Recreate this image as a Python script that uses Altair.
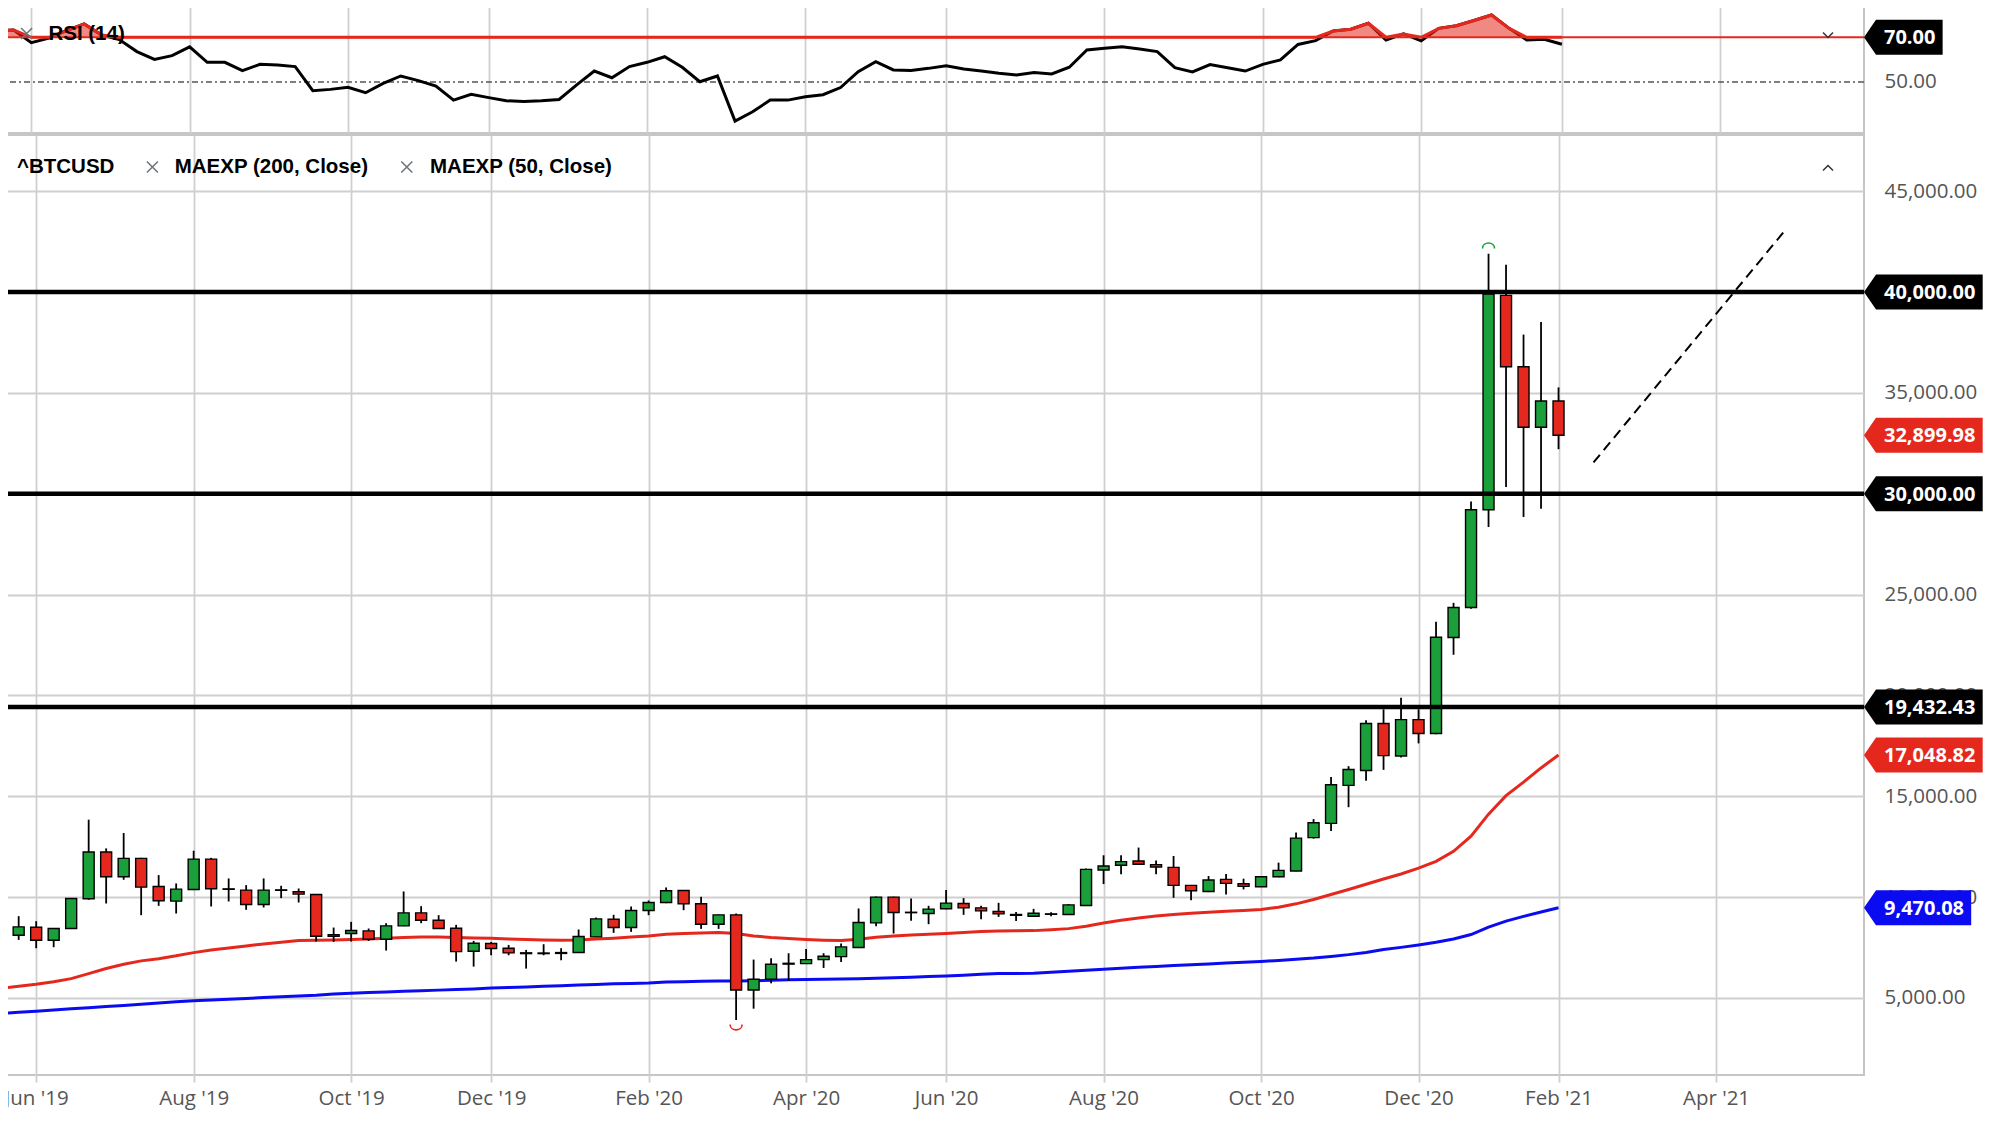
import altair as alt
import pandas as pd

# ---------------- data ----------------
dates = pd.date_range("2019-05-20", periods=90, freq="7D").strftime("%Y-%m-%d").tolist()

open_ = [7120, 8113, 8510, 7864, 8444, 9917, 12235, 11010, 11921, 10530,
         9801, 10381, 11887, 10390, 10348, 9636, 10340, 10265, 10132, 8063,
         8195, 8328, 7914, 8576, 9222, 8858, 8460, 7318, 7699, 7467,
         7240, 7200, 7210, 7252, 8030, 8907, 8493, 9338, 9735, 10331,
         9669, 8659, 9123, 5397, 5927, 6680, 6705, 6904, 7053, 7500,
         8725, 10000, 9250, 9189, 9421, 9685, 9470, 9286, 9140, 9053,
         9150, 9136, 9585, 11346, 11578, 11794, 11611, 11478, 10581, 10282,
         10880, 10664, 10515, 11013, 11296, 12950, 13656, 15541, 16279, 18607,
         17000, 18803, 18115, 22869, 24361, 29209, 39835, 36293, 33295, 34596]
high = [8200, 9056, 8808, 8460, 9960, 13841, 12417, 13179, 11950, 11093,
        10679, 12301, 11950, 10927, 10596, 10927, 10563, 10430, 10150, 8493,
        8775, 8444, 8709, 10281, 9553, 9106, 8626, 7831, 7781, 7632,
        7384, 7666, 7467, 8394, 8990, 9123, 9536, 9834, 10480, 10350,
        10017, 9140, 9189, 6904, 6970, 7219, 7434, 7219, 7699, 9437,
        10030, 10020, 9934, 9570, 10348, 9950, 9570, 9718, 9269, 9419,
        9250, 9660, 11420, 12076, 12076, 12458, 11820, 12043, 10600, 11047,
        11146, 10914, 11050, 11711, 13206, 13869, 15951, 16492, 18770, 19311,
        19885, 19311, 23656, 24590, 29621, 41895, 41351, 37891, 38517, 35272]
low = [6950, 7881, 7467, 7517, 8420, 9868, 9685, 10861, 9106, 9570,
       9189, 10350, 9536, 9785, 9371, 9487, 9950, 9735, 7798, 7781,
       7798, 7830, 7351, 8560, 8709, 8430, 6805, 6556, 7119, 7119,
       6457, 7119, 6871, 7240, 8020, 8228, 8278, 9106, 9700, 9354,
       8427, 8427, 3907, 4470, 5728, 5861, 6690, 6490, 6788, 7480,
       8560, 8195, 8825, 8659, 9400, 9123, 8907, 9020, 8821, 9040,
       9050, 9120, 9570, 10648, 11130, 11600, 11130, 9967, 9850, 10250,
       10133, 10382, 10500, 10990, 11280, 12900, 13279, 14459, 15770, 16311,
       16918, 17623, 18080, 22016, 24300, 28353, 30330, 28847, 29259, 32208]
close = [8113, 8526, 7864, 8444, 9934, 12235, 11010, 11921, 10497, 9818,
         10397, 11887, 10414, 10410, 9636, 10348, 10360, 10149, 8063, 8140,
         8344, 7914, 8576, 9222, 8858, 8444, 7301, 7715, 7450, 7235,
         7200, 7230, 7252, 8046, 8924, 8493, 9338, 9735, 10315, 9669,
         8659, 9123, 5397, 5927, 6672, 6720, 6904, 7070, 7533, 8742,
         10000, 9238, 9230, 9404, 9702, 9470, 9321, 9169, 9100, 9203,
         9170, 9618, 11379, 11545, 11761, 11628, 11495, 10581, 10316, 10847,
         10681, 10532, 11013, 11329, 12924, 13689, 15574, 16328, 18607, 17016,
         18803, 18115, 22885, 24361, 29209, 39900, 36293, 33295, 34596, 32899.98]

ema50 = [5480, 5580, 5680, 5810, 5960, 6210, 6460, 6670, 6840, 6950,
         7090, 7250, 7380, 7480, 7580, 7680, 7760, 7850, 7860, 7880,
         7900, 7920, 7960, 8000, 8030, 8020, 8000, 7980, 7960, 7930,
         7900, 7880, 7864, 7870, 7920, 7964, 8020, 8079, 8160, 8200,
         8220, 8245, 8195, 8079, 8000, 7947, 7897, 7864, 7848, 7914,
         8013, 8079, 8120, 8162, 8200, 8245, 8300, 8320, 8330, 8340,
         8380, 8439, 8555, 8721, 8850, 8970, 9060, 9136, 9200, 9252,
         9300, 9340, 9385, 9502, 9668, 9880, 10133, 10380, 10640, 10900,
         11150, 11438, 11773, 12274, 13027, 14114, 15033, 15702, 16405, 17048.82]
ema200 = [4240, 4290, 4340, 4400, 4470, 4520, 4580, 4630, 4690, 4750,
          4810, 4866, 4900, 4940, 4980, 5020, 5060, 5100, 5140, 5200,
          5240, 5270, 5300, 5330, 5360, 5390, 5420, 5450, 5490, 5520,
          5550, 5580, 5610, 5640, 5670, 5700, 5720, 5740, 5790, 5810,
          5830, 5840, 5844, 5860, 5880, 5900, 5911, 5925, 5940, 5958,
          5977, 6000, 6030, 6060, 6093, 6130, 6180, 6209, 6220, 6229,
          6280, 6330, 6380, 6429, 6475, 6520, 6565, 6611, 6650, 6690,
          6730, 6770, 6811, 6860, 6920, 6977, 7060, 7150, 7260, 7400,
          7510, 7625, 7759, 7926, 8144, 8512, 8813, 9047, 9264, 9470.08]
rsi = [72.8, 73.3, 67.6, 69.6, 73.0, 76.0, 71.0, 69.0, 63.6, 60.1,
       61.8, 65.7, 58.8, 58.8, 55.1, 57.9, 57.6, 56.9, 46.1, 46.7,
       47.6, 45.2, 49.4, 52.7, 50.6, 48.2, 41.9, 44.5, 43.0, 41.6,
       41.3, 41.6, 42.2, 48.7, 54.9, 51.9, 56.9, 58.8, 61.3, 56.6,
       50.1, 52.7, 32.5, 36.7, 41.9, 41.9, 43.4, 44.3, 47.5, 54.6,
       59.1, 55.4, 55.1, 56.1, 57.3, 55.8, 54.9, 53.9, 53.1, 54.2,
       53.6, 56.6, 64.3, 65.1, 65.8, 64.8, 63.6, 56.4, 54.5, 57.8,
       56.4, 54.9, 57.9, 59.9, 66.8, 68.5, 72.8, 73.6, 76.3, 68.8,
       71.5, 68.4, 74.0, 75.2, 77.5, 80.0, 74.0, 68.8, 69.1, 66.9]

levels = [40000, 30000, 19432.43]
price_ticks = [5000, 10000, 15000, 20000, 25000, 30000, 35000, 40000, 45000]
month_ticks = ["2019-06-03", "2019-08-05", "2019-10-07", "2019-12-02", "2020-02-03",
               "2020-04-06", "2020-06-01", "2020-08-03", "2020-10-05", "2020-12-07",
               "2021-02-01", "2021-04-05"]
trend_dates = ["2021-02-15", "2021-05-02"]
trend_vals = [31550, 42965]

# ---------------- styling / layout ----------------
GREEN = "#1b9f3b"
RED = "#e5281d"
BLUE = "#0b0bf2"
GRAY_TXT = "#555555"
PW = 1859          # plot width
RH = 128           # RSI panel height
PH = 940           # price panel height


def ms(d, days=0.0):
    return int((pd.Timestamp(d, tz="UTC") + pd.Timedelta(days=days)).value // 10**6)


xscale = alt.Scale(type="utc", domain=[ms("2019-05-20", 3.53), ms("2019-05-20", 743.2)], nice=False)
tick_ms = [ms(d) for d in month_ticks]

x_price = alt.X("date:T", scale=xscale, title=None,
                axis=alt.Axis(values=tick_ms, labelExpr="utcFormat(datum.value, \"%b '%y\")",
                              grid=True, ticks=True, tickSize=7, labelPadding=6,
                              labelOverlap=False, domain=False, title=None))
x_rsi = alt.X("date:T", scale=xscale, title=None,
              axis=alt.Axis(values=tick_ms, grid=True, labels=False, ticks=False,
                            domain=False, title=None))

yscale = alt.Scale(domain=[1182, 47786], nice=False, zero=False)
yaxis = alt.Axis(orient="right", values=price_ticks, format=",.2f", grid=True, ticks=False,
                 labelPadding=20, domain=False, title=None)
rscale = alt.Scale(domain=[27.18, 84.45], nice=False, zero=False)
raxis = alt.Axis(orient="right", values=[50], format=".2f", grid=False, ticks=False,
                 labelPadding=20, domain=False, title=None)


def PY(f):
    return alt.Y(f, scale=yscale, axis=yaxis, title=None)


def RY(f):
    return alt.Y(f, scale=rscale, axis=raxis, title=None)


def badge_path(label):
    digits = sum(c.isdigit() for c in label)
    punct = sum(c in ",." for c in label)
    w = (27 + 11.44 * digits + 5.8 * punct) / 100.0
    h = 17.5 / 100.0
    a = 12 / 100.0
    return f"M0,0L{a:.3f},{-h:.3f}L{w:.3f},{-h:.3f}L{w:.3f},{h:.3f}L{a:.3f},{h:.3f}Z"


df = pd.DataFrame({"date": dates, "open": open_, "high": high, "low": low, "close": close,
                   "ema50": ema50, "ema200": ema200, "rsi": rsi})
one = pd.DataFrame({"a": [0]})


def label_text(txt, x, y, size=20.5, color="black", font="Liberation Sans", weight="bold"):
    return alt.Chart(one).mark_text(text=txt, align="left", baseline="middle", font=font,
                                    fontSize=size, fontWeight=weight, color=color).encode(
        x=alt.value(x), y=alt.value(y))


def glyph(path, x, y, size, color, width=1.6):
    return alt.Chart(one).mark_point(shape=path, size=size, filled=False, color=color,
                                     strokeWidth=width, opacity=1).encode(
        x=alt.value(x), y=alt.value(y))


# ---------------- RSI panel ----------------
base = alt.Chart(df)
rule70 = alt.Chart(pd.DataFrame({"v": [70]})).mark_rule(color=RED, strokeWidth=2).encode(y=RY("v:Q"))
rule50 = alt.Chart(pd.DataFrame({"v": [50]})).mark_rule(
    color="#555555", strokeWidth=1.6, strokeDash=[6, 3, 2, 3]).encode(y=RY("v:Q"))
rsi_line = base.mark_line(color="black", strokeWidth=3, clip=True).encode(x=x_rsi, y=RY("rsi:Q"))
rsi_area = base.transform_calculate(rmax="max(datum.rsi, 70)", r70="70").mark_area(
    color=RED, opacity=0.55, clip=True).encode(x=x_rsi, y=RY("rmax:Q"), y2="r70:Q")
rsi_red = base.transform_calculate(rmax="max(datum.rsi, 70)").mark_line(
    color=RED, strokeWidth=3, clip=True).encode(x=x_rsi, y=RY("rmax:Q"))

rsi_badge_df = pd.DataFrame({"value": [70], "label": ["70.00"], "bg": ["black"]})
rsi_badge_df["path"] = rsi_badge_df["label"].map(badge_path)
rsi_badge = alt.Chart(rsi_badge_df).mark_point(filled=True, opacity=1, size=40000, strokeWidth=0).encode(
    x=alt.value(PW), y=RY("value:Q"), shape=alt.Shape("path:N", scale=None),
    color=alt.Color("bg:N", scale=None))
rsi_badge_txt = alt.Chart(rsi_badge_df).mark_text(
    align="left", baseline="middle", font="Open Sans", fontSize=20, fontWeight="bold",
    color="white", dy=1).encode(x=alt.value(PW + 20), y=RY("value:Q"), text="label:N")

rsi_chart = alt.layer(
    rule50, rsi_line, rsi_area, rsi_red, rule70,
    rsi_badge, rsi_badge_txt,
    glyph("M-1,-1L1,1M-1,1L1,-1", 21.6, 28.5, 121, "#6b7780"),
    label_text("RSI (14)", 43.4, 29),
    glyph("M-1,-0.5L0,0.5L1,-0.5", 1823, 30, 100, "#333333", 1.5),
).properties(width=PW, height=RH)

# ---------------- price panel ----------------
ema200_line = base.mark_line(color=BLUE, strokeWidth=3, clip=True).encode(x=x_price, y=PY("ema200:Q"))
ema50_line = base.mark_line(color=RED, strokeWidth=3, clip=True).encode(x=x_price, y=PY("ema50:Q"))
wicks = base.mark_rule(color="black", strokeWidth=1.8, clip=True).encode(
    x=x_price, y=PY("low:Q"), y2="high:Q")
bodies = base.mark_bar(size=11, stroke="black", strokeWidth=1.4, clip=True).encode(
    x=x_price, y=PY("open:Q"), y2="close:Q",
    color=alt.condition("datum.close >= datum.open", alt.value(GREEN), alt.value(RED)))
level_lines = alt.Chart(pd.DataFrame({"level": levels})).mark_rule(
    color="black", strokeWidth=4.5).encode(y=PY("level:Q"))
trend = alt.Chart(pd.DataFrame({"date": trend_dates, "v": trend_vals})).mark_line(
    color="black", strokeWidth=2, strokeDash=[10, 6]).encode(x=x_price, y=PY("v:Q"))

hi_i = max(range(len(high)), key=lambda i: high[i])
lo_i = min(range(len(low)), key=lambda i: low[i])
hi_mark = alt.Chart(pd.DataFrame({"date": [dates[hi_i]], "v": [high[hi_i]]})).mark_point(
    shape="M-1,0.6C-1,-0.6 1,-0.6 1,0.6", size=144, filled=False, color="#1aa33d", strokeWidth=1.6,
    opacity=1, yOffset=-9).encode(x=x_price, y=PY("v:Q"))
lo_mark = alt.Chart(pd.DataFrame({"date": [dates[lo_i]], "v": [low[lo_i]]})).mark_point(
    shape="M-1,-0.6C-1,0.6 1,0.6 1,-0.6", size=144, filled=False, color=RED, strokeWidth=1.6,
    opacity=1, yOffset=8).encode(x=x_price, y=PY("v:Q"))

b_vals = levels + [close[-1], ema50[-1], ema200[-1]]
b_cols = ["black", "black", "black", RED, RED, BLUE]
badge_df = pd.DataFrame({"value": b_vals, "label": [f"{v:,.2f}" for v in b_vals], "bg": b_cols})
badge_df["path"] = badge_df["label"].map(badge_path)
badges = alt.Chart(badge_df).mark_point(filled=True, opacity=1, size=40000, strokeWidth=0).encode(
    x=alt.value(PW), y=PY("value:Q"), shape=alt.Shape("path:N", scale=None),
    color=alt.Color("bg:N", scale=None))
badge_txt = alt.Chart(badge_df).mark_text(
    align="left", baseline="middle", font="Open Sans", fontSize=20, fontWeight="bold",
    color="white", dy=1).encode(x=alt.value(PW + 20), y=PY("value:Q"), text="label:N")

price_chart = alt.layer(
    ema200_line, ema50_line, wicks, bodies, level_lines, trend, hi_mark, lo_mark,
    badges, badge_txt,
    label_text("^BTCUSD", 12, 32),
    glyph("M-1,-1L1,1M-1,1L1,-1", 147.4, 32, 121, "#6b7780"),
    label_text("MAEXP (200, Close)", 169.7, 32),
    glyph("M-1,-1L1,1M-1,1L1,-1", 401.8, 32, 121, "#6b7780"),
    label_text("MAEXP (50, Close)", 425, 32),
    glyph("M-1,0.5L0,-0.5L1,0.5", 1823, 33, 100, "#333333", 1.5),
).properties(width=PW, height=PH)

chart = alt.vconcat(rsi_chart, price_chart, spacing=0).properties(
    padding={"left": -7, "top": -4, "right": 0, "bottom": 0}
).configure_view(
    stroke="#c6c6c6", strokeWidth=2
).configure_axis(
    labelFont="Open Sans", labelFontSize=20.5, labelColor=GRAY_TXT,
    gridColor="#cfcfcf", gridWidth=1.8, tickColor="#cfcfcf", tickWidth=1.8
)

chart.save("out.html", embed_options={"renderer": "svg", "actions": False})
